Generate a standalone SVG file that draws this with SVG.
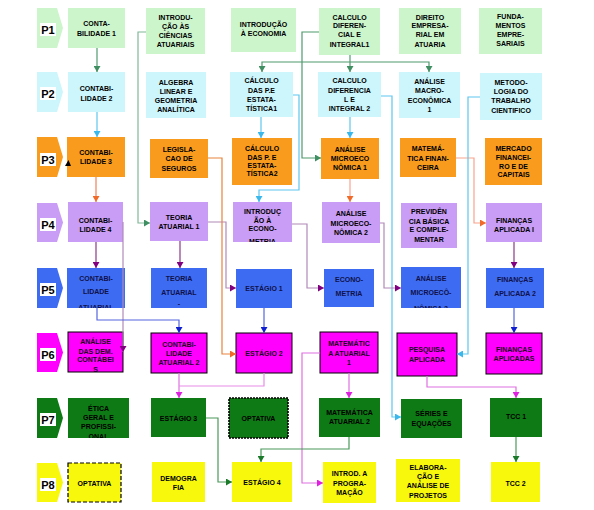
<svg xmlns="http://www.w3.org/2000/svg" width="594" height="510" viewBox="0 0 594 510">
<style>
.t{font-family:"Liberation Sans",Arial,sans-serif;font-weight:bold;font-size:7px;text-anchor:middle;dominant-baseline:central;fill:#000}
.pl{font-family:"Liberation Sans",Arial,sans-serif;font-weight:bold;font-size:11px;text-anchor:middle;dominant-baseline:central;fill:#000}
.lab{fill:#fff}
.c1{fill:#ccf5cc}.c2{fill:#ccf6fb}.c3{fill:#f99b1c}.c4{fill:#c99cf5}.c5{fill:#3d6cf2}.c6{fill:#ff00ff;stroke:#000;stroke-width:1}.c7{fill:#0e7a15}.c8{fill:#f8f80c}
.t5{fill:#10104a}.t6{fill:#200020}
.ln{fill:none;stroke-width:1.2}
.lg{stroke:#4f9a6f;marker-end:url(#ag)}
.lgl{stroke:#80b898;marker-end:url(#ag)}
.lb{stroke:#5ec6ef;marker-end:url(#ab)}
.lo{stroke:#f0805a;marker-end:url(#ao)}
.lor{stroke:#e8843c;marker-end:url(#ao)}
.ls{stroke:#f8a38e;marker-end:url(#ao)}
.lp{stroke:#b08ab8;marker-end:url(#ap)}
.lpd{stroke:#8b3a8b;marker-end:url(#ap)}
.lbl{stroke:#5565e0;marker-end:url(#abl)}
.lm{stroke:#e070e0;marker-end:url(#am)}
.lgd{stroke:#4a9a5a;marker-end:url(#agd)}
</style>
<defs>
<marker id="ag" markerUnits="userSpaceOnUse" markerWidth="7" markerHeight="7" refX="6" refY="3.5" orient="auto"><path d="M0,0L6,3.5L0,7z" fill="#3f8f62"/></marker>
<marker id="ab" markerUnits="userSpaceOnUse" markerWidth="7" markerHeight="7" refX="6" refY="3.5" orient="auto"><path d="M0,0L6,3.5L0,7z" fill="#3ab8ec"/></marker>
<marker id="ao" markerUnits="userSpaceOnUse" markerWidth="7" markerHeight="7" refX="6" refY="3.5" orient="auto"><path d="M0,0L6,3.5L0,7z" fill="#f06a2a"/></marker>
<marker id="ap" markerUnits="userSpaceOnUse" markerWidth="7" markerHeight="7" refX="6" refY="3.5" orient="auto"><path d="M0,0L6,3.5L0,7z" fill="#800080"/></marker>
<marker id="abl" markerUnits="userSpaceOnUse" markerWidth="7" markerHeight="7" refX="6" refY="3.5" orient="auto"><path d="M0,0L6,3.5L0,7z" fill="#1020d0"/></marker>
<marker id="am" markerUnits="userSpaceOnUse" markerWidth="7" markerHeight="7" refX="6" refY="3.5" orient="auto"><path d="M0,0L6,3.5L0,7z" fill="#e020e0"/></marker>
<marker id="agd" markerUnits="userSpaceOnUse" markerWidth="7" markerHeight="7" refX="6" refY="3.5" orient="auto"><path d="M0,0L6,3.5L0,7z" fill="#1a7a2a"/></marker>
<clipPath id="k1"><rect x="233" y="202" width="59" height="40"/></clipPath>
<clipPath id="k2"><rect x="67" y="268" width="58" height="40"/></clipPath>
<clipPath id="k3"><rect x="151" y="268" width="56" height="40"/></clipPath>
<clipPath id="k4"><rect x="401" y="267" width="60" height="41"/></clipPath>
<clipPath id="k5"><rect x="68" y="332" width="55" height="40"/></clipPath>
<clipPath id="k6"><rect x="68" y="398" width="61" height="40"/></clipPath>
</defs>

<g id="periods">
<g id="p1"><path class="c1" d="M37,8H57L63,28L57,48H37z"/><rect class="lab" x="40" y="23" width="16" height="13"/><text class="pl" x="48" y="30">P1</text></g>
<g id="p2"><path class="c2" d="M37,72H57L63,92L57,112H37z"/><rect class="lab" x="40" y="87" width="16" height="13"/><text class="pl" x="48" y="94">P2</text></g>
<g id="p3"><path class="c3" d="M37,137H57L63,157L57,177H37z"/><rect class="lab" x="40" y="153" width="16" height="13"/><text class="pl" x="48" y="160">P3</text></g>
<g id="p4"><path class="c4" d="M37,203H57L63,222.5L57,242H37z"/><rect class="lab" x="40" y="218" width="16" height="13"/><text class="pl" x="48" y="225">P4</text></g>
<g id="p5"><path class="c5" d="M37,268H57L63,288L57,308H37z"/><rect class="lab" x="40" y="283" width="16" height="13"/><text class="pl" x="48" y="290">P5</text></g>
<g id="p6"><path fill="#ff00ff" d="M37,333H57L63,352.5L57,372H37z"/><rect class="lab" x="40" y="348" width="16" height="13"/><text class="pl" x="48" y="355">P6</text></g>
<g id="p7"><path class="c7" d="M37,398H57L63,418L57,438H37z"/><rect class="lab" x="40" y="413" width="16" height="13"/><text class="pl" x="48" y="420">P7</text></g>
<g id="p8"><path class="c8" d="M37,463H57L63,482.5L57,502H37z"/><rect class="lab" x="40" y="478" width="16" height="13"/><text class="pl" x="48" y="485">P8</text></g>
</g>

<g id="n_cont1"><rect class="c1" x="68" y="8" width="57" height="40"/><text class="t"><tspan x="96.5" y="23">CONTA-</tspan><tspan x="96.5" y="33">BILIDADE 1</tspan></text></g>
<g id="n_intro_cien"><rect class="c1" x="146" y="8" width="59" height="46"/><text class="t"><tspan x="175.5" y="17">INTRODU-</tspan><tspan x="175.5" y="26">ÇÃO ÀS</tspan><tspan x="175.5" y="35">CIÊNCIAS</tspan><tspan x="175.5" y="44">ATUARIAIS</tspan></text></g>
<g id="n_intro_eco"><rect class="c1" x="231" y="8" width="65" height="44"/><text class="t"><tspan x="263.5" y="24">INTRODUÇÃO</tspan><tspan x="263.5" y="33">À ECONOMIA</tspan></text></g>
<g id="n_calc1"><rect class="c1" x="319" y="8" width="61" height="47"/><text class="t"><tspan x="349.5" y="17">CALCULO</tspan><tspan x="349.5" y="25">DIFEREN-</tspan><tspan x="349.5" y="34">CIAL E</tspan><tspan x="349.5" y="44">INTEGRAL1</tspan></text></g>
<g id="n_direito"><rect class="c1" x="399" y="8" width="62" height="46"/><text class="t"><tspan x="430" y="17">DIREITO</tspan><tspan x="430" y="25">EMPRESA-</tspan><tspan x="430" y="34">RIAL EM</tspan><tspan x="430" y="44">ATUARIA</tspan></text></g>
<g id="n_fund"><rect class="c1" x="479" y="8" width="63" height="46"/><text class="t"><tspan x="510.5" y="16">FUNDA-</tspan><tspan x="510.5" y="25">MENTOS</tspan><tspan x="510.5" y="34">EMPRE-</tspan><tspan x="510.5" y="43">SARIAIS</tspan></text></g>

<g id="n_cont2"><rect class="c2" x="68" y="72" width="57" height="40"/><text class="t"><tspan x="96.5" y="88">CONTABI-</tspan><tspan x="96.5" y="98">LIDADE 2</tspan></text></g>
<g id="n_algebra"><rect class="c2" x="146" y="72" width="60" height="46"/><text class="t"><tspan x="176" y="82">ALGEBRA</tspan><tspan x="176" y="91">LINEAR E</tspan><tspan x="176" y="100">GEOMETRIA</tspan><tspan x="176" y="109">ANALÍTICA</tspan></text></g>
<g id="n_cpe1"><rect class="c2" x="230" y="72" width="63" height="45"/><text class="t"><tspan x="261.5" y="80">CÁLCULO</tspan><tspan x="261.5" y="90">DAS P.E</tspan><tspan x="261.5" y="99">ESTATA-</tspan><tspan x="261.5" y="108">TÍSTICA1</tspan></text></g>
<g id="n_calc2"><rect class="c2" x="318" y="72" width="63" height="45"/><text class="t"><tspan x="349.5" y="80">CALCULO</tspan><tspan x="349.5" y="90">DIFERENCIA</tspan><tspan x="349.5" y="99">L E</tspan><tspan x="349.5" y="108">INTEGRAL 2</tspan></text></g>
<g id="n_macro1"><rect class="c2" x="399" y="72" width="61" height="46"/><text class="t"><tspan x="429.5" y="81">ANÁLISE</tspan><tspan x="429.5" y="90">MACRO-</tspan><tspan x="429.5" y="100">ECONÔMICA</tspan><tspan x="429.5" y="109">1</tspan></text></g>
<g id="n_metod"><rect class="c2" x="480" y="73" width="62" height="47"/><text class="t"><tspan x="511" y="82">METODO-</tspan><tspan x="511" y="91">LOGIA DO</tspan><tspan x="511" y="100">TRABALHO</tspan><tspan x="511" y="110">CIENTIFICO</tspan></text></g>

<g id="n_cont3"><rect class="c3" x="67" y="137" width="58" height="40"/><text class="t"><tspan x="96" y="152">CONTABI-</tspan><tspan x="96" y="161">LIDADE 3</tspan></text></g>
<g id="n_legis"><rect class="c3" x="150" y="139" width="58" height="39"/><text class="t"><tspan x="179" y="149">LEGISLA-</tspan><tspan x="179" y="158">CAO DE</tspan><tspan x="179" y="168">SEGUROS</tspan></text></g>
<g id="n_cpe2"><rect class="c3" x="232" y="138" width="60" height="47"/><text class="t"><tspan x="262" y="148">CÁLCULO</tspan><tspan x="262" y="157">DAS P. E</tspan><tspan x="262" y="165">ESTATA-</tspan><tspan x="262" y="173">TÍSTICA2</tspan></text></g>
<g id="n_micro1"><rect class="c3" x="321" y="138" width="58" height="41"/><text class="t"><tspan x="350" y="149">ANÁLISE</tspan><tspan x="350" y="158">MICROECO</tspan><tspan x="350" y="167">NÔMICA 1</tspan></text></g>
<g id="n_matfin"><rect class="c3" x="400" y="138" width="56" height="39"/><text class="t"><tspan x="428" y="148">MATEMÁ-</tspan><tspan x="428" y="158">TICA FINAN-</tspan><tspan x="428" y="167">CEIRA</tspan></text></g>
<g id="n_mercado"><rect class="c3" x="485" y="138" width="57" height="47"/><text class="t"><tspan x="513.5" y="148">MERCADO</tspan><tspan x="513.5" y="157">FINANCEI-</tspan><tspan x="513.5" y="166">RO E DE</tspan><tspan x="513.5" y="174">CAPITAIS</tspan></text></g>

<g id="n_cont4"><rect class="c4" x="68" y="202" width="55" height="40"/><text class="t"><tspan x="95.5" y="220">CONTABI-</tspan><tspan x="95.5" y="229">LIDADE 4</tspan></text></g>
<g id="n_teoria1"><rect class="c4" x="150" y="202" width="58" height="39"/><text class="t"><tspan x="179" y="217">TEORIA</tspan><tspan x="179" y="226">ATUARIAL 1</tspan></text></g>
<g id="n_introeconom"><rect class="c4" x="233" y="202" width="59" height="40"/><text class="t" clip-path="url(#k1)"><tspan x="262.5" y="211">INTRODUÇ</tspan><tspan x="262.5" y="220">ÃO À</tspan><tspan x="262.5" y="228">ECONO-</tspan><tspan x="262.5" y="241">METRIA</tspan></text></g>
<g id="n_micro2"><rect class="c4" x="322" y="202" width="58" height="41"/><text class="t"><tspan x="351" y="213">ANÁLISE</tspan><tspan x="351" y="223">MICROECO-</tspan><tspan x="351" y="232">NÔMICA 2</tspan></text></g>
<g id="n_previd"><rect class="c4" x="401" y="203" width="56" height="45"/><text class="t"><tspan x="429" y="211">PREVIDÊN</tspan><tspan x="429" y="221">CIA BÁSICA</tspan><tspan x="429" y="229">E COMPLE-</tspan><tspan x="429" y="239">MENTAR</tspan></text></g>
<g id="n_finap1"><rect class="c4" x="486" y="203" width="56" height="39"/><text class="t"><tspan x="514" y="220">FINANÇAS</tspan><tspan x="514" y="229">APLICADA I</tspan></text></g>

<g id="n_contat"><rect class="c5" x="67" y="268" width="58" height="40"/><text class="t t5" clip-path="url(#k2)"><tspan x="96" y="278">CONTABI-</tspan><tspan x="96" y="291">LIDADE</tspan><tspan x="96" y="307">ATUARIAL</tspan></text></g>
<g id="n_teoria"><rect class="c5" x="151" y="268" width="56" height="40"/><text class="t t5" clip-path="url(#k3)"><tspan x="179" y="278">TEORIA</tspan><tspan x="179" y="292">ATUARIAL</tspan><tspan x="179" y="303">-</tspan></text></g>
<g id="n_est1"><rect class="c5" x="236" y="269" width="56" height="39"/><text class="t t5" x="264" y="288">ESTÁGIO 1</text></g>
<g id="n_econom"><rect class="c5" x="324" y="269" width="50" height="38"/><text class="t t5"><tspan x="349" y="279">ECONO-</tspan><tspan x="349" y="293">METRIA</tspan></text></g>
<g id="n_microN"><rect class="c5" x="401" y="267" width="60" height="41"/><text class="t t5" clip-path="url(#k4)"><tspan x="431" y="278">ANÁLISE</tspan><tspan x="431" y="292">MICROECÔ-</tspan><tspan x="431" y="308">NÔMICA 2</tspan></text></g>
<g id="n_finap2"><rect class="c5" x="486" y="268" width="58" height="40"/><text class="t t5"><tspan x="515" y="279">FINANÇAS</tspan><tspan x="515" y="293">APLICADA 2</tspan></text></g>

<g id="n_adc"><rect class="c6" x="68" y="332" width="55" height="40"/><text class="t t6" clip-path="url(#k5)"><tspan x="95.5" y="341">ANÁLISE</tspan><tspan x="95.5" y="351">DAS DEM.</tspan><tspan x="95.5" y="359">CONTÁBEI</tspan><tspan x="95.5" y="369">S</tspan></text></g>
<g id="n_contat2"><rect class="c6" x="151" y="333" width="56" height="40"/><text class="t t6"><tspan x="179" y="344">CONTABI-</tspan><tspan x="179" y="353">LIDADE</tspan><tspan x="179" y="362">ATUARIAL 2</tspan></text></g>
<g id="n_est2"><rect class="c6" x="236" y="333" width="56" height="40"/><text class="t t6" x="264" y="353">ESTÁGIO 2</text></g>
<g id="n_matat1"><rect class="c6" x="320" y="332" width="58" height="41"/><text class="t t6"><tspan x="349" y="343">MATEMÁTIC</tspan><tspan x="349" y="353">A ATUARIAL</tspan><tspan x="349" y="362">1</tspan></text></g>
<g id="n_pesq"><rect class="c6" x="397" y="333" width="60" height="43"/><text class="t t6"><tspan x="427" y="349">PESQUISA</tspan><tspan x="427" y="359">APLICADA</tspan></text></g>
<g id="n_finaps"><rect class="c6" x="486" y="333" width="56" height="41"/><text class="t t6"><tspan x="514" y="349">FINANÇAS</tspan><tspan x="514" y="358">APLICADAS</tspan></text></g>

<g id="n_etica"><rect class="c7" x="68" y="398" width="61" height="40"/><text class="t" clip-path="url(#k6)"><tspan x="98.5" y="408">ÉTICA</tspan><tspan x="98.5" y="417">GERAL E</tspan><tspan x="98.5" y="426">PROFISSI-</tspan><tspan x="98.5" y="436">ONAL</tspan></text></g>
<g id="n_est3"><rect class="c7" x="151" y="398" width="55" height="39"/><text class="t" x="178.5" y="418">ESTÁGIO 3</text></g>
<g id="n_opt7"><rect class="c7" x="229" y="398" width="59" height="40" stroke="#000" stroke-width="1.6" stroke-dasharray="2,1"/><text class="t" x="258.5" y="418">OPTATIVA</text></g>
<g id="n_matat2"><rect class="c7" x="319" y="398" width="61" height="39"/><text class="t"><tspan x="349.5" y="412">MATEMÁTICA</tspan><tspan x="349.5" y="421">ATUARIAL 2</tspan></text></g>
<g id="n_series"><rect class="c7" x="401" y="399" width="61" height="39"/><text class="t"><tspan x="431.5" y="413">SÉRIES E</tspan><tspan x="431.5" y="423">EQUAÇÕES</tspan></text></g>
<g id="n_tcc1"><rect class="c7" x="490" y="398" width="52" height="39"/><text class="t" x="516" y="416">TCC 1</text></g>

<g id="n_opt8"><rect class="c8" x="68" y="463" width="53" height="39" stroke="#000" stroke-width="1.2" stroke-dasharray="4,2"/><text class="t" x="94.5" y="483">OPTATIVA</text></g>
<g id="n_demo"><rect class="c8" x="152" y="462" width="53" height="40"/><text class="t"><tspan x="178.5" y="478">DEMOGRA</tspan><tspan x="178.5" y="487">FIA</tspan></text></g>
<g id="n_est4"><rect class="c8" x="232" y="462" width="60" height="40"/><text class="t" x="262" y="482">ESTÁGIO 4</text></g>
<g id="n_introprog"><rect class="c8" x="323" y="462" width="53" height="41"/><text class="t"><tspan x="349.5" y="473">INTROD. A</tspan><tspan x="349.5" y="483">PROGRA-</tspan><tspan x="349.5" y="492">MAÇÃO</tspan></text></g>
<g id="n_elab"><rect class="c8" x="396" y="459" width="64" height="43"/><text class="t"><tspan x="428" y="467">ELABORA-</tspan><tspan x="428" y="476">ÇÃO E</tspan><tspan x="428" y="485">ANÁLISE DE</tspan><tspan x="428" y="495">PROJETOS</tspan></text></g>
<g id="n_tcc2"><rect class="c8" x="491" y="462" width="49" height="40"/><text class="t" x="515.5" y="483">TCC 2</text></g>

<g id="connectors">
<path class="ln lg" d="M97,48V72"/>
<path class="ln lb" d="M97,112V137"/>
<path class="ln lo" d="M96,177V202"/>
<path class="ln lpd" d="M96,242V268"/>
<path class="ln lp" d="M123,222V352"/>
<path class="ln lbl" d="M97,308V320H179V333"/>
<path class="ln lgl" d="M146,32H138V223H150"/>
<path class="ln lpd" d="M180,241V268"/>
<path class="ln lp" d="M208,222H226V288H236"/>
<path class="ln lor" d="M208,158H222V354H236"/>
<path class="ln lg" d="M350,55V72"/>
<path class="ln lg" d="M350,62H262V72"/>
<path class="ln lg" d="M350,62H429V72"/>
<path class="ln lg" d="M319,32H302V158H321"/>
<path class="ln lb" d="M261,117V138"/>
<path class="ln lb" d="M293,95H299V190H259V202"/>
<path class="ln lb" d="M350,117V138"/>
<path class="ln lb" d="M381,96H392V417H401"/>
<path class="ln ls" d="M350,179V202"/>
<path class="ln ls" d="M456,158H474V223H486"/>
<path class="ln lb" d="M480,97H468V354H457"/>
<path class="ln lp" d="M292,224H307V288H324"/>
<path class="ln lp" d="M380,223H384V288H401"/>
<path class="ln lpd" d="M514,242V268"/>
<path class="ln lbl" d="M264,308V333"/>
<path class="ln lbl" d="M514,308V333"/>
<path class="ln lm" d="M179,373V398"/>
<path class="ln" stroke="#e88ce8" d="M264,373V386H179"/>
<path class="ln lm" d="M349,373V398"/>
<path class="ln lm" d="M320,353H302V483H323"/>
<path class="ln lm" d="M427,376V387H516V398"/>
<path class="ln lgd" d="M206,418H218V482H232"/>
<path class="ln lgd" d="M349,437V449H261V462"/>
<path class="ln lgd" d="M516,437V462"/>
<path d="M65,166L68.5,160L71,166z" fill="#000"/>
</g>
</svg>
